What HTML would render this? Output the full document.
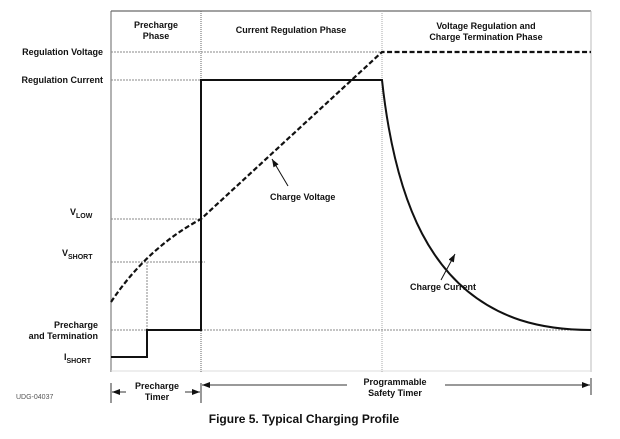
<!DOCTYPE html>
<html><head><style>
body{margin:0;background:#fff;}
svg{display:block;font-family:"Liberation Sans",Arial,sans-serif;font-weight:bold;}
</style></head><body>
<svg width="620" height="439" viewBox="0 0 620 439" xmlns="http://www.w3.org/2000/svg">
<defs><marker id="ah" markerWidth="8" markerHeight="6" refX="8" refY="3" orient="auto" markerUnits="userSpaceOnUse"><path d="M0,0 L8,3 L0,6 z" fill="#111"/></marker></defs>
<line x1="111" y1="11" x2="591" y2="11" stroke="#444" stroke-width="1"/>
<line x1="111" y1="11" x2="111" y2="372" stroke="#666" stroke-width="1"/>
<line x1="591" y1="11" x2="591" y2="372" stroke="#bbb" stroke-width="1"/>
<line x1="111" y1="371" x2="591" y2="371" stroke="#ddd" stroke-width="1"/>
<line x1="201" y1="11" x2="201" y2="372" stroke="#666" stroke-width="1" stroke-dasharray="1,1"/>
<line x1="382" y1="11" x2="382" y2="372" stroke="#aaa" stroke-width="1" stroke-dasharray="1,1"/>
<g stroke="#888" stroke-width="1" stroke-dasharray="2,1">
<line x1="111" y1="52" x2="382" y2="52"/>
<line x1="111" y1="80" x2="201" y2="80"/>
<line x1="111" y1="219" x2="201" y2="219"/>
<line x1="111" y1="262" x2="205" y2="262"/>
<line x1="147" y1="262" x2="147" y2="357"/>
<line x1="111" y1="330" x2="591" y2="330"/>
</g>
<path d="M111,357 H147 V330 H201 V80 H382 C395,200 430,290 520,320 C545,328 570,330 591,330" fill="none" stroke="#111" stroke-width="2"/>
<path d="M111,302 Q147,248 201,219 L382,52 H591" fill="none" stroke="#111" stroke-width="2.2" stroke-dasharray="5,2.5"/>
<g font-size="9" fill="#111">
<text x="103" y="55" text-anchor="end">Regulation Voltage</text>
<text x="103" y="83" text-anchor="end">Regulation Current</text>
<text x="70" y="215">V<tspan font-size="7" dy="3">LOW</tspan></text>
<text x="62" y="256">V<tspan font-size="7" dy="3">SHORT</tspan></text>
<text x="98" y="328" text-anchor="end">Precharge</text>
<text x="98" y="339" text-anchor="end">and Termination</text>
<text x="64" y="360">I<tspan font-size="7" dy="3">SHORT</tspan></text>
<text x="156" y="28" text-anchor="middle">Precharge</text>
<text x="156" y="39" text-anchor="middle">Phase</text>
<text x="291" y="33" text-anchor="middle">Current Regulation Phase</text>
<text x="486" y="29" text-anchor="middle">Voltage Regulation and</text>
<text x="486" y="40" text-anchor="middle">Charge Termination Phase</text>
<text x="270" y="200">Charge Voltage</text>
<text x="410" y="290">Charge Current</text>
<text x="157" y="389" text-anchor="middle">Precharge</text>
<text x="157" y="400" text-anchor="middle">Timer</text>
<text x="395" y="385" text-anchor="middle">Programmable</text>
<text x="395" y="396" text-anchor="middle">Safety Timer</text>
</g>
<text x="16" y="399" font-size="7" font-weight="normal" fill="#555">UDG-04037</text>
<text x="304" y="423" font-size="12" text-anchor="middle" fill="#111">Figure 5.  Typical Charging Profile</text>
<line x1="288" y1="186" x2="272" y2="159" stroke="#111" stroke-width="1" marker-end="url(#ah)"/>
<line x1="441" y1="280" x2="455" y2="254" stroke="#111" stroke-width="1" marker-end="url(#ah)"/>
<g stroke="#333" stroke-width="1">
<line x1="111" y1="383" x2="111" y2="403"/>
<line x1="201" y1="383" x2="201" y2="403"/>
<line x1="591" y1="378" x2="591" y2="395"/>
<line x1="126" y1="392" x2="112" y2="392" marker-end="url(#ah)"/>
<line x1="185" y1="392" x2="200" y2="392" marker-end="url(#ah)"/>
<line x1="347" y1="385" x2="202" y2="385" marker-end="url(#ah)"/>
<line x1="445" y1="385" x2="590" y2="385" marker-end="url(#ah)"/>
</g>
</svg>
</body></html>
